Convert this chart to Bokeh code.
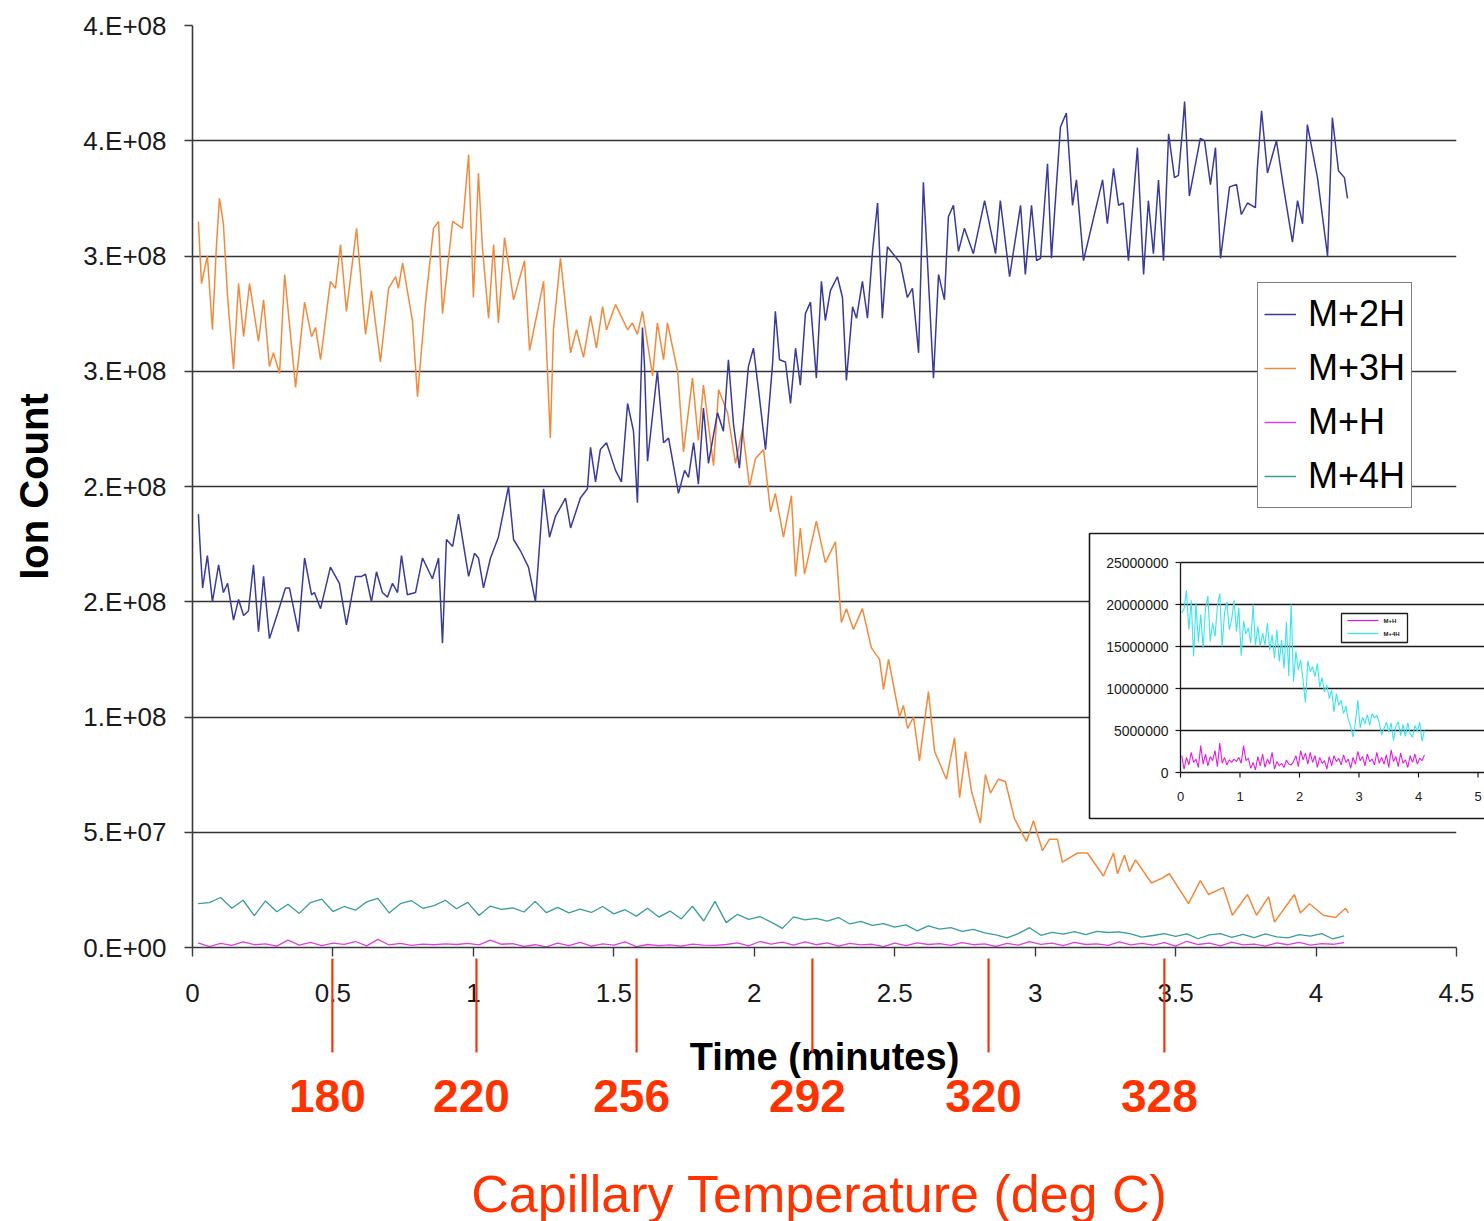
from bokeh.plotting import figure
from bokeh.models import Range1d, FixedTicker, Legend, LegendItem
from bokeh.embed import file_html
from bokeh.resources import INLINE
from bokeh.core.properties import value

# ---------------- data ----------------
# M+2H (ion count, millions) at read-off times (minutes)
t_m2h = [0.021, 0.028, 0.036, 0.053, 0.071, 0.093, 0.110, 0.125, 0.146, 0.164, 0.182, 0.199, 0.217, 0.235,
         0.253, 0.274, 0.303, 0.331, 0.345, 0.377, 0.399, 0.424, 0.434, 0.456, 0.491, 0.523, 0.548, 0.580,
         0.602, 0.616, 0.637, 0.655, 0.676, 0.694, 0.712, 0.730, 0.744, 0.765, 0.794, 0.819, 0.854, 0.876,
         0.890, 0.904, 0.926, 0.947, 0.983, 1.004, 1.018, 1.036, 1.061, 1.089, 1.125, 1.143, 1.168, 1.196,
         1.221, 1.250, 1.271, 1.292, 1.328, 1.346, 1.381, 1.406, 1.417, 1.435, 1.452, 1.474, 1.506, 1.527,
         1.549, 1.570, 1.584, 1.602, 1.609, 1.620, 1.655, 1.677, 1.695, 1.730, 1.752, 1.766, 1.784, 1.801,
         1.819, 1.837, 1.869, 1.890, 1.908, 1.926, 1.947, 1.979, 1.997, 2.015, 2.040, 2.065, 2.075, 2.090,
         2.111, 2.129, 2.147, 2.164, 2.182, 2.200, 2.221, 2.239, 2.253, 2.271, 2.296, 2.314, 2.328, 2.350,
         2.364, 2.385, 2.403, 2.421, 2.439, 2.456, 2.474, 2.520, 2.545, 2.563, 2.585, 2.602, 2.638, 2.656,
         2.677, 2.691, 2.709, 2.727, 2.748, 2.780, 2.820, 2.859, 2.876, 2.909, 2.948, 2.965, 2.987, 3.005,
         3.019, 3.044, 3.058, 3.090, 3.111, 3.133, 3.147, 3.172, 3.240, 3.257, 3.279, 3.297, 3.314, 3.332,
         3.364, 3.386, 3.403, 3.421, 3.439, 3.457, 3.475, 3.496, 3.510, 3.524, 3.532, 3.549, 3.588, 3.603,
         3.624, 3.642, 3.660, 3.692, 3.717, 3.734, 3.756, 3.784, 3.791, 3.806, 3.827, 3.859, 3.884, 3.916,
         3.934, 3.952, 3.969, 4.005, 4.041, 4.058, 4.080, 4.101, 4.112]
m2h_millions = [188, 172, 156, 170, 150, 166, 154, 158, 142, 151, 144, 146, 166, 137,
                161, 134, 145, 156, 156, 137, 169, 153, 154, 147, 165, 158, 140, 161,
                161, 162, 150, 163, 154, 152, 158, 154, 170, 153, 154, 169, 160, 169,
                132, 177, 174, 188, 161, 171, 169, 156, 169, 178, 200, 177, 172, 165,
                150, 199, 178, 187, 195, 182, 195, 199, 217, 202, 216, 219, 207, 202,
                236, 224, 193, 269, 253, 211, 250, 219, 221, 197, 207, 204, 219, 201,
                234, 210, 232, 224, 255, 227, 208, 252, 260, 242, 216, 253, 276, 255,
                254, 236, 260, 244, 275, 280, 247, 289, 272, 285, 291, 282, 246, 278,
                273, 289, 273, 302, 323, 273, 304, 297, 282, 286, 258, 332, 247, 292,
                281, 317, 322, 302, 312, 301, 324, 301, 324, 291, 322, 292, 322, 298,
                299, 340, 299, 356, 362, 322, 333, 298, 333, 314, 338, 322, 323, 298,
                347, 292, 324, 301, 333, 298, 353, 334, 335, 354, 367, 326, 351, 350,
                331, 347, 299, 330, 331, 318, 323, 321, 338, 363, 336, 350, 330, 306,
                324, 314, 357, 334, 300, 360, 337, 334, 325]

# M+3H
t_m3h = [0.021, 0.032, 0.053, 0.071, 0.085, 0.096, 0.110, 0.125, 0.146, 0.164, 0.182, 0.203, 0.235, 0.253,
         0.274, 0.288, 0.310, 0.328, 0.367, 0.399, 0.424, 0.438, 0.456, 0.491, 0.509, 0.527, 0.548, 0.584,
         0.616, 0.637, 0.669, 0.698, 0.723, 0.733, 0.748, 0.783, 0.801, 0.829, 0.858, 0.876, 0.890, 0.926,
         0.961, 0.983, 1.000, 1.018, 1.032, 1.054, 1.072, 1.089, 1.111, 1.143, 1.182, 1.200, 1.250, 1.274,
         1.285, 1.310, 1.346, 1.367, 1.392, 1.417, 1.438, 1.460, 1.474, 1.506, 1.549, 1.566, 1.584, 1.602,
         1.638, 1.655, 1.677, 1.691, 1.727, 1.748, 1.780, 1.801, 1.819, 1.855, 1.873, 1.905, 1.933, 1.958,
         1.983, 2.004, 2.033, 2.058, 2.075, 2.104, 2.132, 2.147, 2.164, 2.179, 2.221, 2.253, 2.289, 2.310,
         2.328, 2.353, 2.385, 2.417, 2.446, 2.460, 2.478, 2.517, 2.531, 2.546, 2.567, 2.588, 2.620, 2.642,
         2.684, 2.713, 2.731, 2.752, 2.773, 2.805, 2.823, 2.841, 2.869, 2.894, 2.926, 2.969, 2.994, 3.026,
         3.051, 3.079, 3.097, 3.151, 3.186, 3.243, 3.279, 3.293, 3.318, 3.336, 3.357, 3.414, 3.450, 3.478,
         3.546, 3.588, 3.617, 3.670, 3.702, 3.756, 3.788, 3.831, 3.852, 3.923, 3.944, 3.977, 4.026, 4.069,
         4.105, 4.115]
m3h_millions = [315, 288, 300, 268, 304, 325, 314, 282, 251, 288, 265, 288, 263, 281,
                252, 258, 249, 292, 243, 280, 265, 269, 255, 289, 286, 305, 276, 312,
                266, 285, 254, 286, 291, 286, 297, 272, 239, 279, 312, 315, 275, 315,
                312, 344, 282, 336, 304, 273, 305, 271, 308, 281, 298, 259, 289, 221,
                268, 299, 258, 268, 256, 274, 260, 278, 268, 279, 268, 271, 266, 276,
                248, 271, 255, 271, 250, 215, 247, 220, 244, 209, 242, 232, 210, 225,
                200, 212, 216, 189, 197, 178, 196, 161, 182, 162, 185, 167, 176, 141,
                147, 138, 147, 130, 125, 112, 125, 100, 105, 95, 100, 81, 111, 85,
                73, 91, 65, 85, 68, 54, 75, 67, 73, 72, 56, 46, 55, 42,
                47, 47, 37, 41, 41, 31, 41, 32, 40, 33, 38, 28, 30, 32,
                19, 29, 23, 26, 14, 23, 14, 22, 11, 23, 15, 19, 14, 13,
                17, 15]

# M+H and M+4H, sampled every 0.04 min from 0.02 min (millions)
m1h_millions = [2.0, 0.4, 1.8, 0.9, 2.4, 1.2, 1.6, 0.6, 3.2, 1.0,
                2.2, 0.8, 1.9, 1.4, 2.6, 0.7, 3.5, 1.1, 1.8, 0.9,
                1.5, 1.2, 1.6, 1.3, 1.8, 1.1, 3.2, 1.4, 1.7, 0.5,
                1.2, 0.3, 1.9, 0.8, 2.2, 0.6, 1.6, 1.0, 2.4, 0.4,
                1.3, 0.8, 1.1, 0.6, 1.5, 1.0, 0.9, 1.3, 2.0, 0.7,
                2.6, 1.5, 2.3, 1.0, 2.4, 1.2, 2.0, 0.6, 1.8, 1.1,
                1.4, 0.4, 1.9, 0.8, 2.0, 1.3, 1.7, 0.9, 2.1, 1.2,
                1.6, 0.5, 1.8, 1.0, 2.5, 1.4, 1.9, 0.8, 2.2, 1.3,
                1.6, 0.9, 2.4, 1.1, 1.8, 1.0, 2.1, 0.6, 2.7, 1.3,
                1.9, 0.7, 2.3, 1.1, 1.5, 0.6, 2.0, 1.2, 2.2, 1.0,
                1.7, 1.4, 2.1]
m4h_millions = [19.0, 19.5, 21.7, 17.0, 20.5, 13.8, 20.2, 15.5, 18.8, 14.8,
                19.5, 21.0, 15.6, 17.8, 16.2, 19.8, 21.3, 15.0, 19.0, 20.3,
                17.0, 18.2, 20.5, 16.8, 19.6, 13.9, 18.0, 16.5, 17.2, 15.4,
                20.0, 15.1, 17.4, 15.0, 16.6, 15.2, 17.8, 14.6, 16.4, 13.6,
                17.0, 13.2, 15.8, 12.4, 17.9, 11.5, 20.0, 10.8, 14.4, 12.2,
                13.4, 11.0, 8.3, 13.3, 12.0, 12.6, 11.4, 13.0, 10.2, 11.3,
                9.6, 10.4, 8.8, 9.8, 7.2, 9.4, 8.0, 8.6, 7.0, 7.9,
                6.3, 5.5, 4.2, 6.0, 8.6, 5.3, 6.6, 5.8, 6.9, 5.6,
                7.0, 6.5, 6.8, 5.9, 4.5, 5.2, 6.0, 4.8, 5.9, 3.8,
                5.5, 6.0, 4.4, 5.7, 4.3, 5.9, 4.6, 4.2, 5.6, 4.9,
                6.0, 3.7, 5.0]
t_step = [round(0.02 + 0.04 * i, 3) for i in range(len(m4h_millions))]

m2h = [v * 1e6 for v in m2h_millions]
m3h = [v * 1e6 for v in m3h_millions]
m1h = [v * 1e6 for v in m1h_millions]
m4h = [v * 1e6 for v in m4h_millions]

xticks = [0, 0.5, 1, 1.5, 2, 2.5, 3, 3.5, 4, 4.5]
xtick_labels = ["0", "0.5", "1", "1.5", "2", "2.5", "3", "3.5", "4", "4.5"]
yticks = [0, 5e7, 1e8, 1.5e8, 2e8, 2.5e8, 3e8, 3.5e8, 4e8]
ytick_labels = ["0.E+00", "5.E+07", "1.E+08", "2.E+08", "2.E+08", "3.E+08", "3.E+08", "4.E+08", "4.E+08"]

temp_labels = ["180", "220", "256", "292", "320", "328"]
temp_times = [0.498, 1.011, 1.581, 2.207, 2.834, 3.460]

inset_yticks = [0, 5e6, 10e6, 15e6, 20e6, 25e6]
inset_ytick_labels = ["0", "5000000", "10000000", "15000000", "20000000", "25000000"]
inset_xticks = [0, 1, 2, 3, 4, 5]
inset_xtick_labels = ["0", "1", "2", "3", "4", "5"]

# ---------------- layout constants (pixels) ----------------
W, H = 1484, 1221
FL, FR, FT, FB = 192, 1456, 25, 947
FONT = "Liberation Sans"
RED = "#ff3300"
NAVY, ORANGE, MAGENTA, TEAL = "#3a3a98", "#f28a3c", "#e040e0", "#3a9c9c"
CYAN, INSET_MAGENTA = "#38e4ee", "#e01ee0"

def mx(px):
    return (px - FL) / (FR - FL) * 4.5

def my(py):
    return (FB - py) / (FB - FT) * 4e8

IX0, IXS = 1180.0, 59.5      # inset: px of t=0, px per minute
IY0, IYS = 772.0, 8.4e-6     # inset: px of 0, px per count

def ix(px):
    return (px - IX0) / IXS

def iy(py):
    return (IY0 - py) / IYS

p = figure(width=W, height=H, output_backend="svg", toolbar_location=None,
           x_range=Range1d(0, 4.5), y_range=Range1d(0, 4e8),
           min_border_left=FL, min_border_right=W - FR, min_border_top=FT, min_border_bottom=H - FB)
p.outline_line_color = None
p.background_fill_color = "white"
p.border_fill_color = "white"
p.extra_x_ranges = {"ix": Range1d(ix(FL), ix(FR))}
p.extra_y_ranges = {"iy": Range1d(iy(FB), iy(FT))}

# axes
p.xaxis.ticker = FixedTicker(ticks=xticks)
p.xaxis.major_label_overrides = {t: s for t, s in zip(xticks, xtick_labels)}
p.yaxis.ticker = FixedTicker(ticks=yticks)
p.yaxis.major_label_overrides = {t: s for t, s in zip(yticks, ytick_labels)}
for ax in (p.xaxis, p.yaxis):
    ax.axis_line_color = "#3a3a3a"
    ax.axis_line_width = 1.6
    ax.major_tick_line_color = "#3a3a3a"
    ax.major_tick_line_width = 1.4
    ax.major_tick_in = 0
    ax.minor_tick_line_color = None
    ax.major_label_text_font = FONT
    ax.major_label_text_color = "#1a1a1a"
    ax.axis_label_text_font = FONT
    ax.axis_label_text_font_style = "bold"
    ax.axis_label_text_color = "black"
p.xaxis.major_tick_out = 9
p.xaxis.major_label_standoff = 27
p.xaxis.major_label_text_font_size = "26px"
p.xaxis.axis_label = "Time (minutes)"
p.xaxis.axis_label_text_font_size = "38px"
p.xaxis.axis_label_standoff = 31
p.yaxis.major_tick_out = 8
p.yaxis.major_label_standoff = 18
p.yaxis.major_label_text_font_size = "26px"
p.yaxis.axis_label = "Ion Count"
p.yaxis.axis_label_text_font_size = "40px"
p.yaxis.axis_label_standoff = 24

p.xgrid.visible = False
p.ygrid.ticker = FixedTicker(ticks=yticks)
p.ygrid.grid_line_color = "#333333"
p.ygrid.grid_line_width = 1.7

# main series
r1 = p.line(t_step, m1h, line_color=MAGENTA, line_width=1.3)
r4 = p.line(t_step, m4h, line_color=TEAL, line_width=1.3)
r3 = p.line(t_m3h, m3h, line_color=ORANGE, line_width=1.5)
r2 = p.line(t_m2h, m2h, line_color=NAVY, line_width=1.5)

legend = Legend(items=[LegendItem(label="M+2H", renderers=[r2]),
                       LegendItem(label="M+3H", renderers=[r3]),
                       LegendItem(label="M+H", renderers=[r1]),
                       LegendItem(label="M+4H", renderers=[r4])],
                location=(1257 - FL, FB - 508))
legend.label_text_font = FONT
legend.label_text_font_size = "36px"
legend.label_text_color = "black"
legend.glyph_width = 32
legend.glyph_height = 50
legend.label_height = 50
legend.label_standoff = 12
legend.padding = 6
legend.spacing = 4
legend.margin = 0
legend.border_line_color = "black"
legend.border_line_width = 1.5
legend.background_fill_color = "white"
legend.background_fill_alpha = 1.0
p.add_layout(legend)

# ---------------- inset chart (own ranges) ----------------
ir = dict(x_range_name="ix", y_range_name="iy", level="overlay")
p.quad(left=[ix(1089)], right=[ix(1494)], bottom=[iy(818)], top=[iy(533)],
       fill_color="white", line_color="#1a1a1a", line_width=1.6, **ir)
p.segment(x0=[0] * len(inset_yticks), x1=[ix(1494)] * len(inset_yticks), y0=inset_yticks, y1=inset_yticks,
          line_color="#1a1a1a", line_width=1.3, **ir)
p.segment(x0=[0], x1=[0], y0=[0], y1=[inset_yticks[-1]], line_color="#1a1a1a", line_width=1.3, **ir)
p.segment(x0=[ix(1175)] * len(inset_yticks), x1=[0] * len(inset_yticks), y0=inset_yticks, y1=inset_yticks,
          line_color="#1a1a1a", line_width=1.2, **ir)
p.segment(x0=inset_xticks, x1=inset_xticks, y0=[0] * len(inset_xticks), y1=[iy(777)] * len(inset_xticks),
          line_color="#1a1a1a", line_width=1.2, **ir)
p.line(t_step, m1h, line_color=INSET_MAGENTA, line_width=1.1, **ir)
p.line(t_step, m4h, line_color=CYAN, line_width=1.1, **ir)
p.text(x=[ix(1168)] * len(inset_yticks), y=inset_yticks, text=inset_ytick_labels,
       text_font=value(FONT), text_font_size="14px", text_color="#1a1a1a",
       text_align="right", text_baseline="middle", **ir)
p.text(x=inset_xticks, y=[iy(796)] * len(inset_xticks), text=inset_xtick_labels,
       text_font=value(FONT), text_font_size="13px", text_color="#1a1a1a",
       text_align="center", text_baseline="middle", **ir)
# inset legend
p.quad(left=[ix(1341)], right=[ix(1407)], bottom=[iy(642)], top=[iy(613)],
       fill_color="white", line_color="#1a1a1a", line_width=1.3, **ir)
p.segment(x0=[ix(1347)], x1=[ix(1378)], y0=[iy(620)], y1=[iy(620)], line_color=INSET_MAGENTA, line_width=1.3, **ir)
p.segment(x0=[ix(1347)], x1=[ix(1378)], y0=[iy(633)], y1=[iy(633)], line_color=CYAN, line_width=1.3, **ir)
p.text(x=[ix(1383), ix(1383)], y=[iy(620), iy(633)], text=["M+H", "M+4H"],
       text_font=value(FONT), text_font_size="6px", text_font_style="bold", text_color="#1a1a1a",
       text_align="left", text_baseline="middle", **ir)

# ---------------- capillary temperature annotation ----------------
n = len(temp_times)
p.segment(x0=temp_times, x1=temp_times, y0=[my(958)] * n, y1=[my(1052)] * n,
          line_color=RED, line_width=2.2, level="overlay")
p.text(x=temp_times, y=[my(1095)] * n, text=temp_labels, x_offset=-5,
       text_font=value(FONT), text_font_size="46px", text_font_style="bold", text_color=RED,
       text_align="center", text_baseline="middle", level="overlay")
p.text(x=[mx(819)], y=[my(1193)], text=["Capillary Temperature (deg C)"],
       text_font=value(FONT), text_font_size="52px", text_color=RED,
       text_align="center", text_baseline="middle", level="overlay")

open("out.html", "w").write(file_html(p, INLINE))
